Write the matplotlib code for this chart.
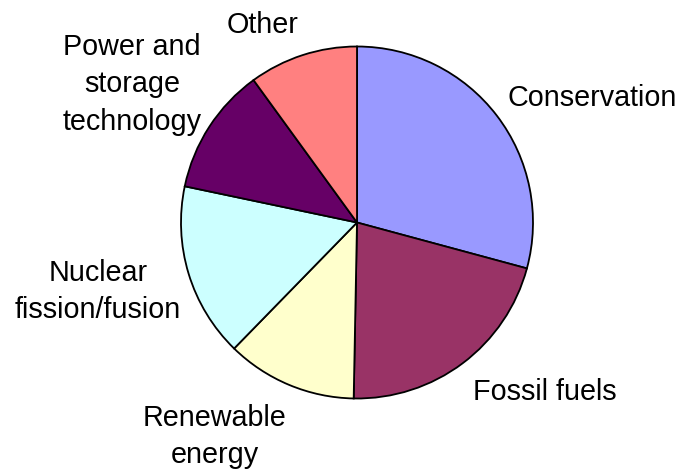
import matplotlib.pyplot as plt

# Share of research effort by area (percent)
categories = ["Conservation", "Fossil fuels", "Renewable\nenergy",
              "Nuclear\nfission/fusion", "Power and\nstorage\ntechnology", "Other"]
shares = [29.2, 21.1, 12.0, 16.0, 11.7, 10.0]
colors = ["#9999FF", "#993366", "#FFFFCC", "#CCFFFF", "#660066", "#FF8080"]

# label centres, in units of the pie radius
label_pos = [(1.335, 0.705), (1.068, -0.965), (-0.809, -1.215),
             (-1.472, -0.392), (-1.278, 0.785), (-0.534, 1.125)]

plt.rcParams['font.family'] = ['Liberation Sans', 'DejaVu Sans']

fig = plt.figure(figsize=(6.8, 4.69), dpi=100)
ax = fig.add_axes([0, 0, 1, 1])

ax.pie(shares, colors=colors, startangle=90, counterclock=False, radius=1.0,
       wedgeprops=dict(edgecolor="black", linewidth=1.3))

for name, (x, y) in zip(categories, label_pos):
    ax.text(x, y, name, ha="center", va="center", fontsize=20.7,
            linespacing=1.42, color="black")

# 1 unit = 176 px, pie centre at (357, 222.5) px from top-left
ax.set_xlim(-357 / 176, (680 - 357) / 176)
ax.set_ylim(-(469 - 222.5) / 176, 222.5 / 176)
ax.set_aspect("equal")
ax.axis("off")

fig.savefig("out.png", dpi=100, facecolor="white")
